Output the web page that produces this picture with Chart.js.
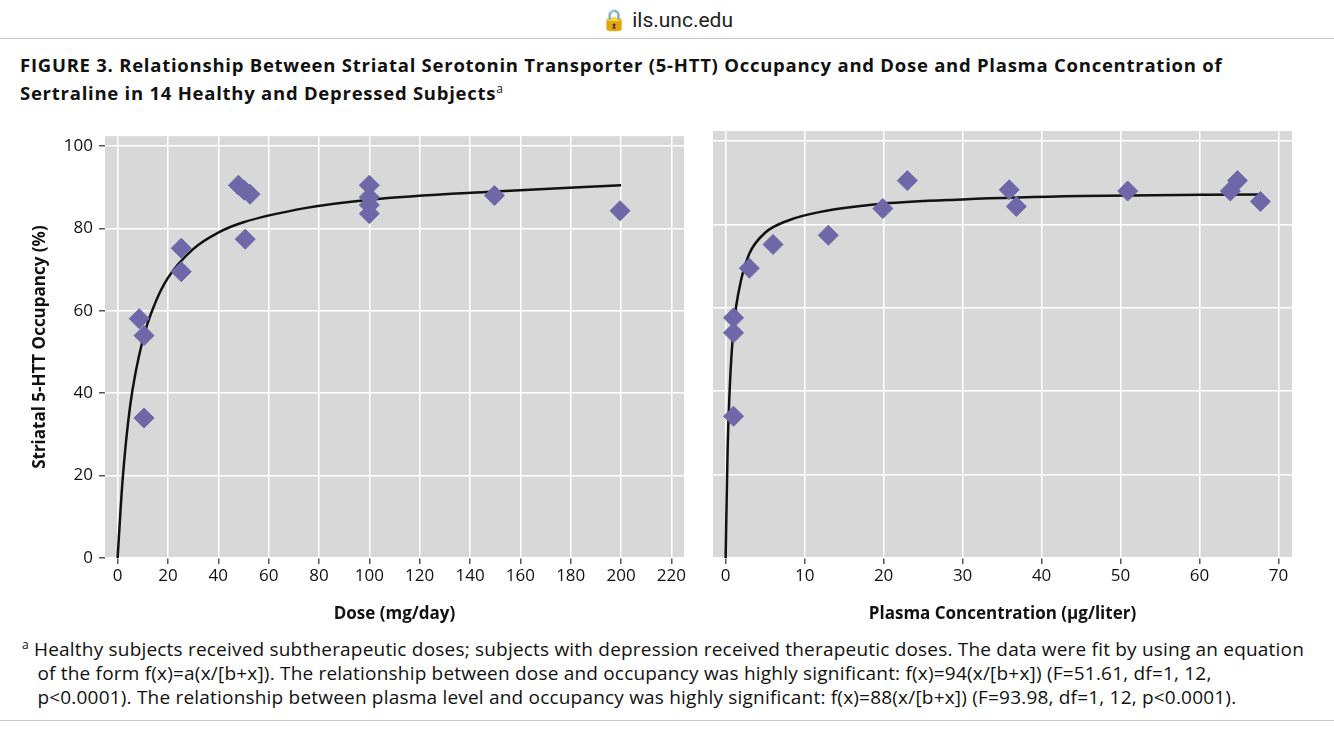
<!DOCTYPE html>
<html><head><meta charset="utf-8">
<script src="https://cdn.jsdelivr.net/npm/chart.js@4"></script>
<style>
body{margin:0;width:1334px;height:750px;background:#fff;font-family:"Open Sans",sans-serif;position:relative;overflow:hidden}
.bar{position:absolute;left:0;top:0;width:1334px;height:38px;border-bottom:1px solid #c8c8c8;text-align:center;font-size:21px;line-height:40px;color:#222;font-family:Roboto,sans-serif}
.title{position:absolute;left:20px;top:53px;font-size:18.5px;font-weight:bold;line-height:24px;color:#111;letter-spacing:0.75px;white-space:nowrap}
.title sup{font-size:12px;font-weight:normal}
.note{position:absolute;left:22px;top:633px;width:1310px;font-size:19px;line-height:24px;color:#111;letter-spacing:0.2px;white-space:nowrap}
.note sup{font-size:12px}
.bot{position:absolute;left:0;top:720px;width:1334px;border-top:1px solid #c8c8c8}
canvas{position:absolute}
</style></head><body>
<div class="bar">🔒 ils.unc.edu</div>
<div class="title">FIGURE 3. Relationship Between Striatal Serotonin Transporter (5-HTT) Occupancy and Dose and Plasma Concentration of<br>Sertraline in 14 Healthy and Depressed Subjects<sup>a</sup></div>
<div style="position:absolute;left:30px;top:120px;width:665px;height:508px"><canvas id="c1"></canvas></div>
<div style="position:absolute;left:702px;top:120px;width:601px;height:508px"><canvas id="c2"></canvas></div>
<div class="note"><sup>a</sup> Healthy subjects received subtherapeutic doses; subjects with depression received therapeutic doses. The data were fit by using an equation<br>&nbsp;&nbsp;&nbsp;of the form f(x)=a(x/[b+x]). The relationship between dose and occupancy was highly significant: f(x)=94(x/[b+x]) (F=51.61, df=1, 12,<br>&nbsp;&nbsp;&nbsp;p&lt;0.0001). The relationship between plasma level and occupancy was highly significant: f(x)=88(x/[b+x]) (F=93.98, df=1, 12, p&lt;0.0001).</div>
<div class="bot"></div>
<script>
const doseX = [8.6, 10.5, 10.5, 25.3, 25.3, 48, 50.3, 52.6, 50.7, 100, 100, 100, 100, 149.7, 199.6]
const doseY = [58.1, 54, 34, 75.2, 69.5, 90.5, 89.3, 88.3, 77.4, 90.5, 87.6, 85.7, 83.6, 88, 84.3]
const doseFitX = [0, 2, 5, 10, 15, 20, 30, 40, 50, 75, 100, 150, 200]
const doseFitY = [0, 19, 37, 53, 62, 68, 75, 79, 81.5, 85, 87, 89, 90.5]
const plasmaX = [1.0, 1.0, 1.0, 3, 6, 13, 19.9, 23, 35.9, 36.8, 50.9, 63.9, 64.8, 67.7]
const plasmaY = [57.6, 54, 34, 69.5, 75.2, 77.4, 83.8, 90.5, 88.3, 84.3, 88, 88, 90.5, 85.5]
const plasmaFitX = [0, 0.25, 0.5, 1, 2, 3, 5, 8, 12, 20, 30, 45, 68]
const plasmaFitY = [0, 26, 40, 55, 67, 73, 78, 81, 83, 85, 86, 86.8, 87.2]
const doseTicks = [0, 20, 40, 60, 80, 100, 120, 140, 160, 180, 200, 220]
const plasmaTicks = [0, 10, 20, 30, 40, 50, 60, 70]
const yTicks = [0, 20, 40, 60, 80, 100]

const font = { family: 'Open Sans', size: 17 }
const tickColor = '#111'

function makeChart(id, xs, ys, fx, fy, xMin, xMax, xTicks, xTitle, showY) {
  const pts = xs.map((x, i) => ({ x, y: ys[i] }))
  const fit = fx.map((x, i) => ({ x, y: fy[i] }))
  new Chart(document.getElementById(id), {
    type: 'scatter',
    data: {
      datasets: [
        { data: fit, type: 'line', borderColor: '#111', borderWidth: 2.5, pointRadius: 0, cubicInterpolationMode: 'monotone', order: 2 },
        { data: pts, pointStyle: 'rectRot', pointRadius: 10, backgroundColor: '#6f67a8', borderColor: '#6f67a8', order: 1 },
      ],
    },
    options: {
      animation: false,
      responsive: true,
      maintainAspectRatio: false,
      layout: { padding: { top: 2, right: 0, left: showY ? 0 : 5, bottom: 0 } },
      plugins: { legend: { display: false }, tooltip: { enabled: false } },
      scales: {
        x: {
          type: 'linear', min: xMin, max: xMax,
          ticks: { color: tickColor, font, padding: 2 },
          afterBuildTicks: (s) => { s.ticks = xTicks.map((v) => ({ value: v })) },
          afterFit: (s) => { s.height = 70 },
          grid: { color: '#fff', lineWidth: 1.5, tickColor: '#555', tickLength: 6 },
          border: { display: false },
          title: { display: true, text: xTitle, color: tickColor, font: { family: 'Open Sans', size: 17, weight: 'bold' }, padding: { top: 10 } },
        },
        y: {
          min: 0, max: 102.4,
          ticks: { color: tickColor, font, display: showY, padding: 6 },
          afterBuildTicks: (s) => { s.ticks = yTicks.map((v) => ({ value: v })) },
          afterFit: (s) => { s.width = showY ? 75 : 0 },
          grid: { color: '#fff', lineWidth: 1.5, drawTicks: showY, tickColor: '#555', tickLength: 6 },
          border: { display: false },
          title: { display: showY, text: 'Striatal 5-HTT Occupancy (%)', color: tickColor, font: { family: 'Open Sans', size: 17, weight: 'bold' }, padding: 0 },
        },
      },
    },
    plugins: [{
      id: 'bg',
      beforeDraw(c) {
        const a = c.chartArea
        c.ctx.save()
        c.ctx.fillStyle = '#d8d8d8'
        c.ctx.fillRect(a.left, a.top, a.right - a.left, a.bottom - a.top)
        c.ctx.restore()
      },
    }],
  })
}

makeChart('c1', doseX, doseY, doseFitX, doseFitY, -5, 225, doseTicks, 'Dose (mg/day)', true)
makeChart('c2', plasmaX, plasmaY, plasmaFitX, plasmaFitY, -1.6, 71.7, plasmaTicks, 'Plasma Concentration (μg/liter)', false)
</script>
</body></html>
